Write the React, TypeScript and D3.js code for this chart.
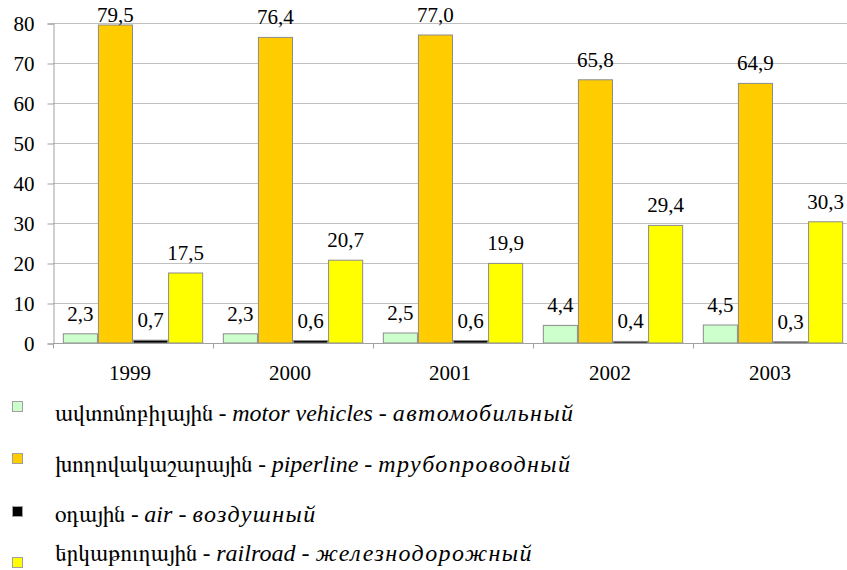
import React, { useEffect, useRef } from "react";
import * as d3 from "d3";

const years = ["1999", "2000", "2001", "2002", "2003"];
const seriesKeys = ["motor", "pipeline", "air", "railroad"];
const motorValues = [2.3, 2.3, 2.5, 4.4, 4.5];
const pipelineValues = [79.5, 76.4, 77.0, 65.8, 64.9];
const airValues = [0.7, 0.6, 0.6, 0.4, 0.3];
const railroadValues = [17.5, 20.7, 19.9, 29.4, 30.3];
const yTicks = [0, 10, 20, 30, 40, 50, 60, 70, 80];

const legendArm = ["ավտոմոբիլային", "խողովակաշարային", "օդային", "երկաթուղային"];
const legendEng = ["motor vehicles", "piperline", "air", "railroad"];
const legendRus = ["автомобильный", "трубопроводный", "воздушный", "железнодорожный"];

const colors = ["#ccffcc", "#ffcc00", "#000000", "#ffff00"];
const FONT = "Liberation Serif, FreeSerif, serif";

const W = 847;
const H = 570;

const Chart: React.FC = () => {
  const ref = useRef<SVGSVGElement | null>(null);

  useEffect(() => {
    if (!ref.current) return;
    const svg = d3.select(ref.current);
    svg.selectAll("*").remove();

    const values = [motorValues, pipelineValues, airValues, railroadValues];
    const left = 53;
    const top = 23;
    const bottom = 343;

    const x0 = d3.scaleBand<string>().domain(years).range([left, left + 800]);
    const x1 = d3
      .scaleBand<string>()
      .domain(seriesKeys)
      .range([0, x0.bandwidth()])
      .paddingInner(0)
      .paddingOuter(0.28);
    const y = d3.scaleLinear().domain([0, 80]).range([bottom, top]);

    // grid
    svg
      .append("g")
      .selectAll("line")
      .data(yTicks.filter((t) => t > 0))
      .enter()
      .append("line")
      .attr("x1", left)
      .attr("x2", W)
      .attr("y1", (d) => Math.round(y(d)) + 0.5)
      .attr("y2", (d) => Math.round(y(d)) + 0.5)
      .attr("stroke", "#c0c0c0")
      .attr("stroke-width", 1);

    // y axis
    const yAxis = svg.append("g").attr("transform", `translate(${left + 0.5},0.5)`);
    yAxis
      .call(d3.axisLeft(y).tickValues(yTicks).tickSize(6).tickPadding(13).tickFormat(d3.format("d")))
      .call((g) => g.attr("font-family", null).attr("font-size", null))
      .call((g) => g.select(".domain").attr("stroke", "#a0a0a0"))
      .call((g) => g.selectAll(".tick line").attr("stroke", "#a0a0a0"))
      .call((g) =>
        g
          .selectAll(".tick text")
          .style("font-family", FONT)
          .style("font-size", "21px")
          .attr("fill", "#000")
          .attr("dy", "0.34em")
      );

    // bars
    const groups = svg
      .append("g")
      .selectAll("g")
      .data(years)
      .enter()
      .append("g")
      .attr("transform", (d) => `translate(${x0(d)},0)`);

    seriesKeys.forEach((key, si) => {
      groups
        .append("rect")
        .attr("x", () => (x1(key) as number) + 0.5)
        .attr("y", (_, i) => y(values[si][i]))
        .attr("width", x1.bandwidth() - 1)
        .attr("height", (_, i) => bottom - y(values[si][i]))
        .attr("fill", colors[si])
        .attr("stroke", "#8c8c8c")
        .attr("stroke-width", 1);

      groups
        .append("text")
        .attr("x", () => (x1(key) as number) + x1.bandwidth() / 2)
        .attr("y", (_, i) => Math.max(y(values[si][i]) - 13, 22))
        .attr("text-anchor", "middle")
        .style("font-family", FONT)
        .style("font-size", "21px")
        .attr("fill", "#000")
        .text((_, i) => d3.format(".1f")(values[si][i]).replace(".", ","));
    });

    // x axis
    const xAxis = svg.append("g").attr("transform", `translate(0,${bottom + 0.5})`);
    xAxis
      .append("line")
      .attr("x1", left)
      .attr("x2", W)
      .attr("stroke", "#a0a0a0");
    xAxis
      .selectAll("line.tk")
      .data(years.concat(["end"]))
      .enter()
      .append("line")
      .attr("class", "tk")
      .attr("x1", (d, i) => left + i * x0.step() + 0.5)
      .attr("x2", (d, i) => left + i * x0.step() + 0.5)
      .attr("y1", 0)
      .attr("y2", 5)
      .attr("stroke", "#a0a0a0");
    xAxis
      .selectAll("text")
      .data(years)
      .enter()
      .append("text")
      .attr("x", (d) => (x0(d) as number) + x0.bandwidth() / 2 - 3)
      .attr("y", 36)
      .attr("text-anchor", "middle")
      .style("font-family", FONT)
      .style("font-size", "21px")
      .attr("fill", "#000")
      .text((d) => d);

    // legend
    const rowY = [421, 472, 522, 561];
    const boxY = [401, 453, 506, 557];
    const legend = svg.append("g");
    legendArm.forEach((arm, i) => {
      legend
        .append("rect")
        .attr("x", 12.5)
        .attr("y", boxY[i] + 0.5)
        .attr("width", 10)
        .attr("height", 10)
        .attr("fill", colors[i])
        .attr("stroke", "#a0a0a0");
      const t = legend
        .append("text")
        .attr("x", 55)
        .attr("y", rowY[i])
        .style("font-family", FONT)
        .style("font-size", "24px")
        .attr("fill", "#000");
      t.append("tspan").style("font-size", "23px").text(arm + " - ");
      t.append("tspan").style("font-style", "italic").text(legendEng[i]);
      t.append("tspan").text(" - ");
      t.append("tspan")
        .style("font-style", "italic")
        .style("letter-spacing", "1.4px")
        .text(legendRus[i]);
    });
  }, []);

  return (
    <svg
      ref={ref}
      width={W}
      height={H}
      style={{ position: "absolute", left: 0, top: 0, background: "#fff" }}
    ></svg>
  );
};

export default function App() {
  return <Chart />;
}
